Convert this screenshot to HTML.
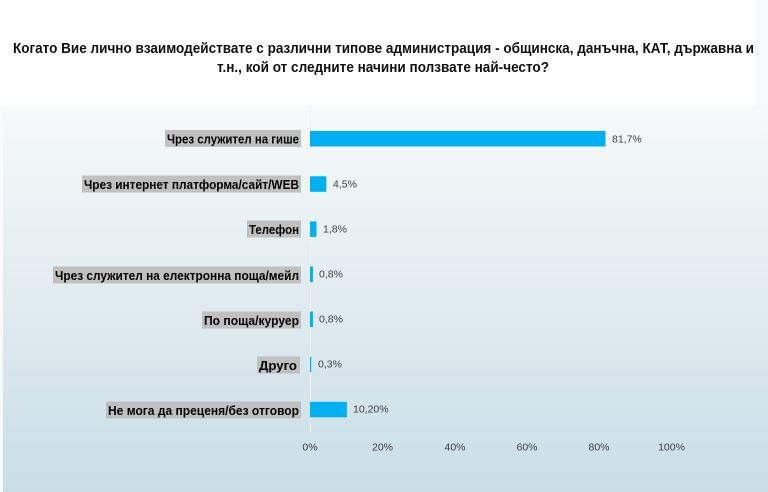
<!DOCTYPE html>
<html><head><meta charset="utf-8"><style>
html,body{margin:0;padding:0;background:#fafbfc;}
svg{display:block;}
</style></head><body>
<svg width="768" height="492" viewBox="0 0 768 492" xmlns="http://www.w3.org/2000/svg">
<defs>
<linearGradient id="bg" x1="0" y1="0" x2="0" y2="1">
<stop offset="0" stop-color="#f7f9fa"/>
<stop offset="0.45" stop-color="#e3edf1"/>
<stop offset="1" stop-color="#c8dee6"/>
</linearGradient>
</defs>
<rect x="0" y="0" width="768" height="492" fill="#f8fafb"/>
<rect x="0" y="0" width="757" height="106" fill="#fefefe"/>
<rect x="3" y="107" width="765" height="385" fill="url(#bg)"/>
<line x1="310.5" y1="105" x2="310.5" y2="432" stroke="#eef3f5" stroke-width="1"/>
<g font-family="Liberation Sans, sans-serif" font-weight="bold" font-size="14.5" fill="#111">
<text x="13" y="53" textLength="741" lengthAdjust="spacingAndGlyphs">Когато Вие лично взаимодействате с различни типове администрация - общинска, данъчна, КАТ, държавна и</text>
<text x="217" y="72" textLength="332" lengthAdjust="spacingAndGlyphs">т.н., кой от следните начини ползвате най-често?</text>
</g>
<g fill="#c0c0c0">
<rect x="165" y="130" width="136" height="17"/>
<rect x="82" y="175.5" width="219" height="17"/>
<rect x="247" y="220.5" width="54" height="17"/>
<rect x="53" y="266.5" width="248" height="17"/>
<rect x="202" y="311.5" width="99" height="17"/>
<rect x="257" y="356.5" width="43" height="17"/>
<rect x="106" y="401.5" width="195" height="17"/>
</g>
<g font-family="Liberation Sans, sans-serif" font-weight="bold" font-size="13" fill="#000">
<text x="167" y="143.5" textLength="132" lengthAdjust="spacingAndGlyphs">Чрез служител на гише</text>
<text x="84" y="189" textLength="215" lengthAdjust="spacingAndGlyphs">Чрез интернет платформа/сайт/WEB</text>
<text x="249" y="234" textLength="50" lengthAdjust="spacingAndGlyphs">Телефон</text>
<text x="55" y="280" textLength="244" lengthAdjust="spacingAndGlyphs">Чрез служител на електронна поща/мейл</text>
<text x="204" y="325" textLength="95" lengthAdjust="spacingAndGlyphs">По поща/куруер</text>
<text x="259" y="370" textLength="38" lengthAdjust="spacingAndGlyphs">Друго</text>
<text x="108" y="415" textLength="191" lengthAdjust="spacingAndGlyphs">Не мога да преценя/без отговор</text>
</g>
<g fill="#00b0f0">
<rect x="310" y="131" width="295.5" height="15.5"/>
<rect x="310" y="176.3" width="16.3" height="15.5"/>
<rect x="310" y="221.4" width="6.5" height="15.5"/>
<rect x="310" y="266.5" width="2.9" height="15.5"/>
<rect x="310" y="311.6" width="2.9" height="15.5"/>
<rect x="310" y="356.7" width="1.2" height="15.5"/>
<rect x="310" y="401.8" width="36.9" height="15.5"/>
</g>
<g font-family="Liberation Sans, sans-serif" font-size="10.5" fill="#404040">
<text x="612" y="142.5">81,7%</text>
<text x="333" y="187.5">4,5%</text>
<text x="323" y="232.5">1,8%</text>
<text x="319" y="277.5">0,8%</text>
<text x="319" y="322.5">0,8%</text>
<text x="318" y="367.5">0,3%</text>
<text x="353" y="412.5">10,20%</text>
</g>
<g font-family="Liberation Sans, sans-serif" font-size="10.5" fill="#404040" text-anchor="middle">
<text x="310" y="450.5">0%</text>
<text x="382.5" y="450.5">20%</text>
<text x="455" y="450.5">40%</text>
<text x="527" y="450.5">60%</text>
<text x="599" y="450.5">80%</text>
<text x="671.5" y="450.5">100%</text>
</g>
</svg>
</body></html>
